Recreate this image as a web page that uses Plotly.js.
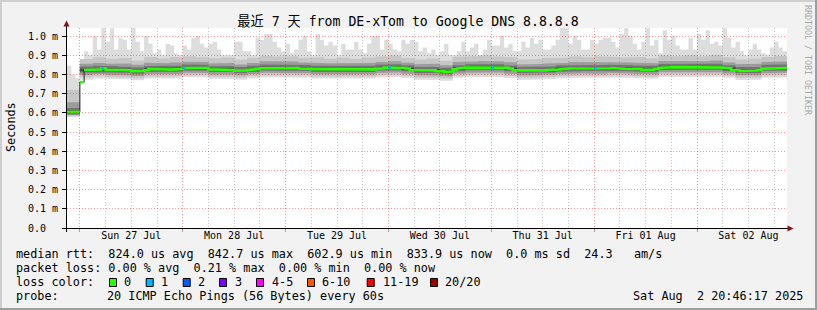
<!DOCTYPE html>
<html><head><meta charset="utf-8">
<script src="https://cdn.plot.ly/plotly-3.0.1.min.js"></script>
<style>html,body{margin:0;padding:0;background:#f2f2f2;}#chart{width:817px;height:310px;}</style>
</head><body><div id="chart"></div>
<script>
// ---------------- data ----------------
const TITLE = '最近 7 天 from DE-xTom to Google DNS 8.8.8.8';
const Y_TITLE = 'Seconds';
const RANGE_START = '2025-07-26 21:00';
const RANGE_END = '2025-08-02 21:00';
const HOURLY_START = Date.UTC(2025, 6, 26, 21);   // hourly series start
const HOUR = 3600000;
const Y_TICKS = [0, 0.1, 0.2, 0.3, 0.4, 0.5, 0.6, 0.7, 0.8, 0.9, 1.0];
const Y_TICK_TEXT = ['0.0  ', '0.1 m', '0.2 m', '0.3 m', '0.4 m', '0.5 m', '0.6 m', '0.7 m', '0.8 m', '0.9 m', '1.0 m'];

// median rtt (ms), hourly
const median = [
0.604,0.602,0.605,0.760,
0.823,0.824,0.822,0.825,0.832,
0.824,0.822,0.823,0.821,0.823,0.822,
0.817,0.816,0.818,0.822,
0.828,0.827,0.829,0.827,
0.826,0.825,0.827,0.828,
0.833,0.832,0.834,0.833,0.831,0.833,
0.826,0.825,0.824,0.826,0.825,0.823,
0.820,0.819,0.821,
0.823,0.826,0.828,
0.832,0.833,0.834,0.833,0.835,0.833,0.832,0.834,0.833,0.831,0.832,0.829,
0.827,0.826,0.825,0.826,0.827,0.825,0.826,0.824,0.826,0.825,
0.825,0.824,0.826,0.825,0.826,0.829,0.832,
0.835,0.836,0.834,0.835,0.833,0.831,
0.822,0.820,0.821,0.819,0.820,0.821,0.818,0.816,
0.813,0.815,
0.826,0.831,0.834,0.835,0.836,0.834,0.835,0.837,0.834,0.835,
0.836,0.835,0.834,0.831,
0.821,0.819,0.820,0.821,0.819,0.820,0.822,0.821,0.823,0.824,0.825,0.827,
0.830,0.831,0.829,0.830,0.832,0.831,0.830,0.829,0.831,0.830,0.832,0.833,0.831,0.830,0.829,0.831,0.830,0.828,
0.825,0.826,0.824,0.828,
0.834,0.836,0.837,0.838,0.836,0.838,0.837,0.839,0.836,0.837,0.838,0.836,0.837,0.838,0.836,0.834,0.832,
0.823,0.820,0.818,0.821,0.819,0.820,0.822,
0.830,0.832,0.833,0.831,0.832,0.833
];

// slowest ping (ms), hourly
const pingMax = [
0.845,0.800,0.780,0.860,
0.92,0.90,1.0,0.93,1.045,0.97,1.04,0.93,0.99,0.98,0.93,1.045,0.97,0.92,1.0,0.96,0.91,0.93,0.90,0.96,0.95,0.91,0.90,0.95,0.93,0.99,1.0,0.96,0.94,
0.96,0.97,0.93,0.90,0.90,0.90,0.97,0.97,0.92,0.92,0.90,0.99,0.98,1.01,1.01,0.97,0.94,0.92,0.96,0.91,0.93,0.98,1.0,0.92,0.90,1.01,0.98,0.95,0.97,0.95,0.90,0.96,0.93,0.93,
0.97,0.93,0.91,0.96,1.0,1.0,0.93,0.98,0.96,0.93,0.92,0.98,0.96,0.98,0.97,0.92,0.94,0.91,0.93,0.90,0.92,0.96,0.90,0.90,0.92,0.97,0.92,0.94,0.96,0.90,0.93,0.98,0.95,0.95,
1.0,0.94,0.96,0.92,0.92,0.97,0.94,0.99,0.96,0.98,0.93,0.93,0.95,0.98,1.045,1.045,0.96,1.0,0.98,0.93,0.93,0.98,0.96,0.98,0.99,0.99,0.97,0.94,1.01,1.04,1.0,0.96,0.93,
0.97,1.045,0.95,0.98,0.91,1.03,0.98,1.0,0.95,0.93,0.93,0.99,0.93,1.01,0.98,1.03,0.96,0.97,0.95,1.04,0.99,0.94,0.97,0.92,0.90,0.93,0.96,0.93,0.91,0.90,0.94,0.97,0.94,0.92
];

// smoke quantiles (ms), 3-hourly
const SMOKE_STEP_H = 3;
const pingMin = [0.578,0.772,0.779,0.776,0.775,0.770,0.779,0.780,0.778,0.786,0.784,0.777,0.776,0.772,0.779,0.785,0.786,0.784,0.783,0.778,0.779,0.776,0.777,0.779,0.784,0.787,0.781,0.772,0.771,0.767,0.782,0.786,0.788,0.786,0.781,0.771,0.773,0.775,0.779,0.782,0.783,0.781,0.784,0.782,0.780,0.777,0.787,0.789,0.788,0.789,0.788,0.782,0.771,0.772,0.783,0.784];
const q2lo = [0.583,0.785,0.790,0.786,0.784,0.780,0.789,0.791,0.790,0.796,0.795,0.788,0.787,0.783,0.790,0.796,0.797,0.795,0.794,0.789,0.790,0.788,0.787,0.789,0.795,0.798,0.792,0.783,0.782,0.778,0.793,0.797,0.799,0.798,0.792,0.782,0.784,0.786,0.790,0.793,0.794,0.792,0.796,0.793,0.791,0.788,0.799,0.800,0.801,0.800,0.799,0.793,0.783,0.784,0.794,0.796];
const q2hi = [0.720,0.880,0.889,0.881,0.886,0.872,0.890,0.883,0.891,0.895,0.889,0.884,0.888,0.876,0.887,0.897,0.892,0.894,0.886,0.889,0.882,0.887,0.881,0.888,0.893,0.899,0.886,0.878,0.883,0.871,0.892,0.894,0.899,0.893,0.889,0.877,0.880,0.885,0.887,0.893,0.889,0.894,0.891,0.888,0.890,0.884,0.898,0.894,0.900,0.895,0.901,0.889,0.878,0.882,0.891,0.896];
const q4lo = [0.588,0.797,0.802,0.798,0.796,0.792,0.801,0.803,0.802,0.808,0.807,0.800,0.799,0.795,0.802,0.808,0.809,0.807,0.806,0.801,0.802,0.800,0.799,0.801,0.807,0.810,0.804,0.795,0.794,0.790,0.805,0.809,0.811,0.810,0.804,0.794,0.796,0.798,0.802,0.805,0.806,0.804,0.808,0.805,0.803,0.800,0.811,0.812,0.813,0.812,0.811,0.805,0.795,0.796,0.806,0.808];
const q4hi = [0.655,0.856,0.860,0.855,0.857,0.850,0.861,0.858,0.862,0.866,0.865,0.857,0.860,0.852,0.859,0.868,0.866,0.867,0.862,0.860,0.858,0.859,0.857,0.860,0.864,0.869,0.861,0.853,0.855,0.848,0.864,0.867,0.870,0.867,0.863,0.852,0.854,0.857,0.860,0.864,0.863,0.865,0.864,0.862,0.861,0.858,0.870,0.869,0.871,0.868,0.872,0.862,0.853,0.855,0.864,0.867];
const q6lo = [0.593,0.810,0.813,0.810,0.809,0.804,0.813,0.814,0.814,0.820,0.819,0.812,0.812,0.807,0.813,0.820,0.821,0.820,0.818,0.813,0.813,0.812,0.812,0.813,0.819,0.822,0.816,0.807,0.807,0.802,0.817,0.822,0.822,0.822,0.816,0.807,0.807,0.810,0.814,0.817,0.818,0.817,0.819,0.817,0.815,0.813,0.823,0.824,0.824,0.824,0.824,0.817,0.807,0.807,0.819,0.819];
const q6hi = [0.625,0.841,0.845,0.842,0.840,0.836,0.844,0.846,0.845,0.851,0.850,0.843,0.844,0.838,0.845,0.852,0.852,0.851,0.849,0.845,0.844,0.843,0.844,0.845,0.850,0.853,0.848,0.838,0.839,0.834,0.848,0.853,0.854,0.853,0.847,0.838,0.839,0.841,0.846,0.848,0.849,0.849,0.850,0.848,0.846,0.845,0.854,0.856,0.855,0.855,0.856,0.848,0.839,0.838,0.850,0.851];
const q8lo = [0.598,0.816,0.820,0.817,0.815,0.811,0.820,0.821,0.822,0.827,0.826,0.819,0.818,0.814,0.820,0.827,0.828,0.826,0.825,0.820,0.821,0.819,0.818,0.820,0.826,0.829,0.823,0.814,0.813,0.809,0.824,0.829,0.828,0.829,0.823,0.814,0.815,0.817,0.821,0.824,0.825,0.823,0.826,0.824,0.822,0.820,0.830,0.831,0.830,0.831,0.831,0.824,0.814,0.815,0.826,0.825];
const q8hi = [0.612,0.830,0.833,0.830,0.829,0.824,0.833,0.834,0.835,0.840,0.839,0.832,0.833,0.827,0.833,0.840,0.841,0.840,0.838,0.833,0.834,0.832,0.832,0.833,0.839,0.842,0.836,0.827,0.828,0.822,0.837,0.842,0.843,0.842,0.836,0.827,0.827,0.830,0.834,0.837,0.838,0.837,0.839,0.837,0.835,0.833,0.843,0.844,0.845,0.844,0.844,0.837,0.827,0.828,0.839,0.839];

// hours (index into hourly series) with 1/20 packet loss
const lossOneHours = [8, 27, 75, 99, 123];

// legend text
const LEGEND_RTT = 'median rtt:  824.0 us avg  842.7 us max  602.9 us min  833.9 us now  0.0 ms sd  24.3   am/s';
const LEGEND_LOSS = 'packet loss: 0.00 % avg  0.21 % max  0.00 % min  0.00 % now';
const LEGEND_LC = 'loss color:';
const LOSS_LABELS = ['0', '1', '2', '3', '4-5', '6-10', '11-19', '20/20'];
const LOSS_COLORS = ['#26ff00', '#00b8ff', '#0059ff', '#7e00ff', '#ff00ff', '#ff5500', '#ff0000', '#a10000'];
const PROBE_LABEL = 'probe:';
const PROBE_TEXT = '20 ICMP Echo Pings (56 Bytes) every 60s';
const STAMP = 'Sat Aug  2 20:46:17 2025';
const CREDIT = 'RRDTOOL / TOBI OETIKER';

// ---------------- drawing ----------------
const FONT = 'DejaVu Sans Mono, Noto Sans CJK SC, monospace';
const W = 817, H = 310, ML = 67, MR = 30, MT = 28, MB = 82;
const PW = W - ML - MR, PH = H - MT - MB;
const PX = x => (x - ML) / PW;
const PY = y => (H - MB - y) / PH;
const nb = s => s.replace(/ /g, '\u00a0');

function steps(t0, stepMs, vals) {
  const xs = [], ys = [];
  vals.forEach((v, i) => { xs.push(t0 + i * stepMs, t0 + (i + 1) * stepMs); ys.push(v, v); });
  return { xs, ys };
}
const S3 = SMOKE_STEP_H * HOUR;
const traces = [];
function band(lo, hi, color) {
  traces.push({ x: lo.xs, y: lo.ys, mode: 'lines', line: { width: 0 }, hoverinfo: 'skip' });
  traces.push({ x: hi.xs, y: hi.ys, mode: 'lines', line: { width: 0 }, fill: 'tonexty', fillcolor: color, hoverinfo: 'skip' });
}
band(steps(HOURLY_START, S3, pingMin), steps(HOURLY_START, HOUR, pingMax), '#dddddd');
band(steps(HOURLY_START, S3, q2lo), steps(HOURLY_START, S3, q2hi), '#c6c6c6');
band(steps(HOURLY_START, S3, q4lo), steps(HOURLY_START, S3, q4hi), '#9c9c9c');
band(steps(HOURLY_START, S3, q6lo), steps(HOURLY_START, S3, q6hi), '#737373');
band(steps(HOURLY_START, S3, q8lo), steps(HOURLY_START, S3, q8hi), '#4a4a4a');

const med = steps(HOURLY_START, HOUR, median);
traces.push({ x: med.xs, y: med.ys, mode: 'lines', line: { color: '#202020', width: 1 }, hoverinfo: 'skip' });
const gx = [], gy = [];
median.forEach((v, i) => {
  if (i > 0 && Math.abs(v - median[i - 1]) > 0.04) { gx.push(null); gy.push(null); }
  gx.push(HOURLY_START + i * HOUR, HOURLY_START + (i + 1) * HOUR); gy.push(v, v);
});
traces.push({ x: gx, y: gy, mode: 'lines', line: { color: '#26ff00', width: 2.6 }, connectgaps: false, hoverinfo: 'skip' });
const bx = [], by = [];
lossOneHours.forEach(i => {
  bx.push(HOURLY_START + i * HOUR, HOURLY_START + i * HOUR + HOUR * 0.6, null);
  by.push(median[i], median[i], null);
});
traces.push({ x: bx, y: by, mode: 'lines', line: { color: LOSS_COLORS[1], width: 2.6 }, connectgaps: false, hoverinfo: 'skip' });
// grid overlay subplot
traces.push({ x: [], y: [], xaxis: 'x2', yaxis: 'y2', mode: 'lines', hoverinfo: 'skip' });

const RED_GRID = 'rgba(255,0,0,0.42)';
const GRAY_GRID = 'rgba(140,140,140,0.5)';
const DOT = '1px,2px';

const ann = [];
const txt = (text, x, y, opt = {}) => ann.push(Object.assign({
  text: nb(text), xref: 'paper', yref: 'paper', x: PX(x), y: PY(y), showarrow: false,
  xanchor: 'left', yanchor: 'middle', borderpad: 0,
  font: { family: FONT, size: 11.8, color: '#000' }
}, opt));
txt(LEGEND_RTT, 15.3, 254);
txt(LEGEND_LOSS, 15.3, 268);
txt(LEGEND_LC, 15.3, 282);
txt(PROBE_LABEL, 15.3, 296);
txt(PROBE_TEXT, 106.4, 296);
txt(STAMP, 632, 296);
txt(Y_TITLE, 11, 127, { textangle: -90, xanchor: 'center' });
txt(CREDIT, 808, 60, { textangle: 90, xanchor: 'center', font: { family: FONT, size: 8.3, color: '#a8a8a8' } });
const boxL = [109, 145.7, 182.7, 219, 256, 307, 366.7, 430];
const labL = [123, 160, 197, 234, 270.7, 320.7, 381.7, 444];

const shapes = [
  { type: 'rect', xref: 'paper', yref: 'paper', x0: 0, x1: 1, y0: 0, y1: 1, fillcolor: '#ffffff', line: { width: 0 }, layer: 'below' },
  // frame
  { type: 'rect', xref: 'paper', yref: 'paper', x0: PX(0), x1: PX(W), y0: PY(0), y1: PY(2), fillcolor: '#cfcfcf', line: { width: 0 } },
  { type: 'rect', xref: 'paper', yref: 'paper', x0: PX(0), x1: PX(2), y0: PY(0), y1: PY(H), fillcolor: '#cfcfcf', line: { width: 0 } },
  { type: 'rect', xref: 'paper', yref: 'paper', x0: PX(0), x1: PX(W), y0: PY(H - 2), y1: PY(H), fillcolor: '#9e9e9e', line: { width: 0 } },
  { type: 'rect', xref: 'paper', yref: 'paper', x0: PX(W - 2), x1: PX(W), y0: PY(0), y1: PY(H), fillcolor: '#9e9e9e', line: { width: 0 } },
  // axis lines
  { type: 'line', xref: 'paper', yref: 'paper', x0: PX(62), x1: PX(789), y0: PY(228.5), y1: PY(228.5), line: { color: '#000', width: 1 } },
  { type: 'line', xref: 'paper', yref: 'paper', x0: PX(66.5), x1: PX(66.5), y0: PY(232), y1: PY(24), line: { color: '#000', width: 1 } },
  // arrows
  { type: 'path', xref: 'paper', yref: 'paper', path: `M ${PX(66.5)},${PY(20.5)} L ${PX(63.5)},${PY(26.5)} L ${PX(69.5)},${PY(26.5)} Z`, fillcolor: '#8b1010', line: { width: 0 } },
  { type: 'path', xref: 'paper', yref: 'paper', path: `M ${PX(793.5)},${PY(228.5)} L ${PX(787.5)},${PY(225.5)} L ${PX(787.5)},${PY(231.5)} Z`, fillcolor: '#8b1010', line: { width: 0 } }
];
LOSS_LABELS.forEach((lab, i) => {
  shapes.push({ type: 'rect', xref: 'paper', yref: 'paper', x0: PX(boxL[i] + 0.5), x1: PX(boxL[i] + 7.5), y0: PY(278.5), y1: PY(286.5), fillcolor: LOSS_COLORS[i], line: { color: '#000', width: 1 } });
  txt(lab, labL[i], 282);
});

const layout = {
  width: W, height: H,
  margin: { l: ML, r: MR, t: MT, b: MB, pad: 0 },
  paper_bgcolor: '#f2f2f2', plot_bgcolor: 'rgba(0,0,0,0)',
  showlegend: false,
  title: { text: TITLE, x: 408 / W, xanchor: 'center', xref: 'container', y: 1 - 21 / H, yanchor: 'middle', yref: 'container', font: { family: FONT, size: 13.2, color: '#000' } },
  xaxis: {
    type: 'date', range: [RANGE_START, RANGE_END], domain: [0, 1], anchor: 'y',
    tick0: '2025-07-26 12:00', dtick: 86400000, tickformat: '%a %d %b',
    ticks: '', showgrid: false, zeroline: false, showline: false,
    tickfont: { family: FONT, size: 10, color: '#000' }, fixedrange: true
  },
  yaxis: {
    range: [0, PH / 192], domain: [0, 1], anchor: 'x',
    tickmode: 'array', tickvals: Y_TICKS, ticktext: Y_TICK_TEXT.map(nb),
    ticks: 'outside', ticklen: 4, tickcolor: '#000', showgrid: false, zeroline: false, showline: false,
    tickfont: { family: FONT, size: 10, color: '#000' }, ticklabelstandoff: 2, fixedrange: true
  },
  xaxis2: {
    type: 'date', range: [RANGE_START, RANGE_END], domain: [0, 1], anchor: 'y2',
    tick0: '2025-07-27 00:00', dtick: 86400000, showticklabels: false,
    ticks: 'outside', ticklen: 3, tickcolor: '#a0a0a0',
    showgrid: true, gridcolor: RED_GRID, griddash: DOT, gridwidth: 1,
    minor: { tick0: '2025-07-27 00:00', dtick: 6 * HOUR, showgrid: true, gridcolor: GRAY_GRID, griddash: DOT, gridwidth: 1, ticks: '' },
    zeroline: false, showline: false, fixedrange: true
  },
  yaxis2: {
    range: [0, PH / 192], domain: [0, 1], anchor: 'x2',
    tickmode: 'array', tickvals: Y_TICKS.slice(1), showticklabels: false, ticks: '',
    showgrid: true, gridcolor: RED_GRID, griddash: DOT, gridwidth: 1,
    zeroline: false, showline: false, fixedrange: true
  },
  shapes: shapes,
  annotations: ann
};
Plotly.newPlot('chart', traces, layout, { displayModeBar: false, staticPlot: true });
</script></body></html>
